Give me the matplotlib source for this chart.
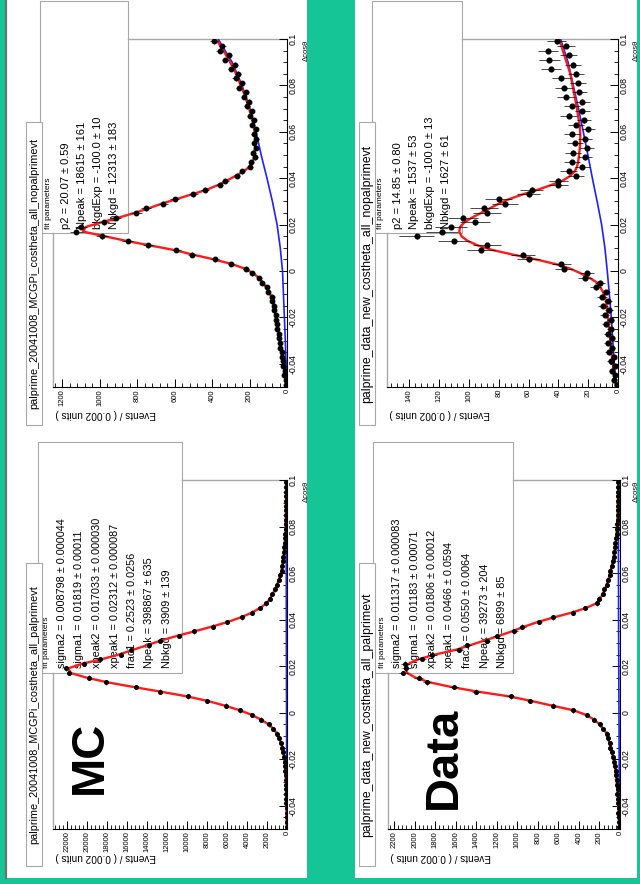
import numpy as np
import matplotlib
matplotlib.use("Agg")
import matplotlib.pyplot as plt
from matplotlib.patches import Rectangle
from matplotlib.lines import Line2D
from matplotlib.ticker import MultipleLocator

plt.rcParams['font.family'] = ['Liberation Sans', 'DejaVu Sans']

# ---------------- data ----------------
bin_centers = np.round(np.arange(-0.049, 0.1, 0.002), 3)   # 75 bins of 0.002
bkg_x = [-0.05, -0.04, -0.03, -0.02, -0.01, 0.0, 0.01, 0.02, 0.03, 0.04,
         0.05, 0.06, 0.07, 0.08, 0.09, 0.1]

# MC, no palprime (top-left)
mc_nop_fit = [6, 9, 12, 15, 18, 22, 26, 30, 34, 38,
              42, 46, 50, 54, 58, 62, 65, 70, 76, 84,
              96, 110, 130, 150, 180, 225, 295, 390, 500, 600,
              730, 860, 975, 1090, 1075, 990, 900, 815, 740, 670,
              590, 510, 430, 370, 320, 275, 230, 200, 183, 176,
              173, 171, 170, 170, 171, 174, 179, 185, 192, 199,
              206, 214, 222, 232, 242, 252, 262, 272, 284, 297,
              310, 325, 340, 356, 372]
mc_nop_data = [7, 8, 14, 13, 20, 21, 28, 29, 36, 37,
               44, 45, 52, 53, 60, 60, 68, 69, 79, 82,
               100, 107, 134, 147, 186, 220, 300, 384, 508, 592,
               742, 850, 990, 1125, 1100, 980, 915, 805, 752, 660,
               600, 500, 440, 360, 330, 268, 238, 196, 190, 170,
               180, 165, 176, 163, 178, 168, 186, 178, 200, 188,
               214, 205, 232, 220, 255, 240, 275, 262, 300, 280,
               330, 310, 360, 345, 390]
mc_nop_bkg = [2, 5, 9, 14, 19, 24, 36, 53, 78, 107, 138, 165, 198, 240, 293, 368]

# Data, no palprime (top-right)
dt_nop_fit = [1.5, 2, 2.5, 3, 3.3, 3.7, 4, 4.3, 4.6, 5,
              5.3, 5.6, 6, 6.3, 6.6, 7, 7.3, 7.6, 8, 9,
              10, 12, 14, 19, 25, 32, 42, 55, 70, 84,
              94, 101, 105, 106.5, 106, 103, 98, 92, 86, 80,
              73, 64, 54, 45, 37, 32, 29, 27.5, 26.8, 26.3,
              26, 25.6, 25.4, 25.3, 25.3, 25.5, 25.8, 26.3, 26.8, 27.3,
              27.8, 28.4, 29, 29.6, 30.2, 30.8, 31.4, 32, 33, 34,
              35, 36, 37, 38, 39]
dt_nop_data = [1, 3, 2, 4, 2, 5, 3, 6, 4, 7,
               4, 7, 5, 8, 5, 9, 6, 10, 7, 11,
               8, 15, 12, 22, 21, 36, 38, 60, 64, 92,
               88, 110, 135, 118, 112, 96, 104, 88, 90, 76,
               80, 60, 58, 40, 40, 28, 33, 24, 31, 22,
               30, 21, 29, 22, 31, 20, 28, 23, 33, 24,
               31, 24, 35, 26, 36, 27, 38, 28, 45, 30,
               46, 33, 47, 35, 41]
dt_nop_bkg = [1.5, 2.5, 3.5, 4.5, 5.8, 7.2, 8.8, 11, 14, 17.2,
              20.2, 23.3, 26.5, 30, 33.5, 38.5]

# MC, palprime (bottom-left)
mc_p_fit = [30, 35, 40, 45, 50, 55, 60, 70, 80, 95,
            110, 130, 155, 190, 240, 300, 370, 460, 580, 760,
            1000, 1350, 1850, 2600, 3500, 4700, 6200, 7900, 10000, 12600,
            15300, 17900, 20000, 21600, 21900, 20500, 18500, 16800, 15400, 14000,
            12600, 11000, 9200, 7500, 5900, 4600, 3500, 2700, 2050, 1700,
            1450, 1200, 1000, 820, 680, 560, 470, 410, 350, 300,
            250, 210, 180, 160, 140, 130, 120, 110, 105, 100,
            95, 90, 88, 85, 82]
mc_p_data = [28, 37, 38, 47, 48, 57, 58, 72, 78, 97,
             108, 133, 152, 194, 236, 305, 365, 466, 574, 768,
             990, 1365, 1830, 2630, 3460, 4750, 6150, 7980, 9900, 12750,
             15150, 18100, 19800, 21800, 22100, 20300, 18700, 16600, 15600, 13800,
             12750, 10850, 9300, 7400, 5980, 4550, 3540, 2660, 2080, 1680,
             1470, 1180, 1015, 810, 690, 550, 478, 402, 356, 296,
             254, 206, 183, 157, 143, 127, 122, 108, 107, 98,
             97, 88, 90, 83, 84]
mc_p_bkg = [20, 25, 30, 35, 40, 45, 50, 55, 60, 65, 70, 72, 74, 76, 78, 80]

# Data, palprime (bottom-right)
dt_p_fit = [8, 10, 12, 14, 16, 18, 20, 23, 26, 30,
            34, 39, 45, 50, 58, 67, 78, 90, 103, 115,
            130, 160, 200, 250, 330, 450, 660, 860, 1080, 1380,
            1640, 1850, 1990, 2070, 2095, 2060, 1960, 1800, 1600, 1460,
            1320, 1180, 1050, 930, 800, 640, 470, 330, 230, 195,
            168, 148, 130, 115, 102, 90, 80, 70, 62, 55,
            48, 42, 37, 33, 30, 27, 25, 23, 22, 21,
            20, 19, 18, 17, 16]
dt_p_data = [6, 12, 11, 16, 14, 20, 18, 25, 24, 33,
             31, 42, 43, 53, 55, 70, 75, 94, 99, 120,
             126, 166, 194, 258, 322, 462, 648, 875, 1065, 1400,
             1620, 1880, 1960, 2110, 2080, 2090, 1930, 1830, 1570, 1490,
             1300, 1200, 1030, 950, 785, 655, 460, 340, 222, 200,
             163, 152, 126, 118, 99, 93, 77, 72, 60, 57,
             46, 44, 35, 34, 29, 28, 24, 24, 21, 22,
             19, 20, 17, 18, 15]
dt_p_bkg = [5, 6, 7, 8, 9, 10, 11, 12, 13, 14, 14, 15, 15, 15, 16, 16]

x_ticks = [-0.04, -0.02, 0.0, 0.02, 0.04, 0.06, 0.08, 0.1]
x_tick_labels = ['-0.04', '-0.02', '0', '0.02', '0.04', '0.06', '0.08', '0.1']

titles = {
    'tl': 'palprime_20041008_MCGPi_costheta_all_nopalprimevt',
    'bl': 'palprime_20041008_MCGPi_costheta_all_palprimevt',
    'tr': 'palprime_data_new_costheta_all_nopalprimevt',
    'br': 'palprime_data_new_costheta_all_palprimevt',
}
stats = {
    'tl': ['p2 = 20.07 \u00b1 0.59', 'Npeak = 18615 \u00b1 161',
           'bkgdExp = -100.0 \u00b1 10', 'Nbkgd = 12313 \u00b1 183'],
    'tr': ['p2 = 14.85 \u00b1 0.80', 'Npeak = 1537 \u00b1 53',
           'bkgdExp = -100.0 \u00b1 13', 'Nbkgd = 1627 \u00b1 61'],
    'bl': ['sigma2 = 0.008798 \u00b1 0.000044', 'sigma1 = 0.01819 \u00b1 0.00011',
           'xpeak2 = 0.017033 \u00b1 0.000030', 'xpeak1 = 0.02312 \u00b1 0.000087',
           'frac1 = 0.2523 \u00b1 0.0256', 'Npeak = 398867 \u00b1 635',
           'Nbkgd = 3909 \u00b1 139'],
    'br': ['sigma2 = 0.011317 \u00b1 0.000083', 'sigma1 = 0.01183 \u00b1 0.00071',
           'xpeak2 = 0.01806 \u00b1 0.00012', 'xpeak1 = 0.0466 \u00b1 0.0594',
           'frac1 = 0.0550 \u00b1 0.0064', 'Npeak = 39273 \u00b1 204',
           'Nbkgd = 6899 \u00b1 85'],
}

# ---------------- layout ----------------
W, H = 640, 884
TEAL = '#15c596'
FRAME_GRAY = '#a8a8a8'
fig = plt.figure(figsize=(W / 100, H / 100), dpi=100)
fig.patch.set_facecolor(TEAL)


def frect(x0, y0, x1, y1):
    return [x0 / W, 1 - y1 / H, (x1 - x0) / W, (y1 - y0) / H]


def add_box(x0, y0, x1, y1, fc='white', ec=FRAME_GRAY, lw=0.8, z=1):
    r = Rectangle((x0 / W, 1 - y1 / H), (x1 - x0) / W, (y1 - y0) / H,
                  transform=fig.transFigure, facecolor=fc, edgecolor=ec,
                  linewidth=lw, zorder=z)
    fig.add_artist(r)


def add_line(x0, y0, x1, y1, color=FRAME_GRAY, lw=1.0, z=1.5):
    fig.add_artist(Line2D([x0 / W, x1 / W], [1 - y0 / H, 1 - y1 / H],
                          transform=fig.transFigure, color=color, lw=lw, zorder=z))


def ftext(x, y, s, **kw):
    return fig.text(x / W, 1 - y / H, s, **kw)


# white slide panels
add_box(6, -3, 307, 878, fc='white', ec='none', lw=0, z=-5)
add_line(6, 0, 6, 878, color='#6f6f6f', lw=1.6, z=-4)
add_box(355, -3, 637, 878, fc='white', ec='none', lw=0, z=-5)


def panel(rect, cmax, cstep, fit, data, bkg, ms):
    ax = fig.add_axes(frect(*rect))
    ax.set_zorder(3)
    ax.set_facecolor('none')
    ax.plot(bkg, bkg_x, color='#2020ff', lw=1.2, zorder=2)
    ax.plot(fit, bin_centers, color='#ff1a1a', lw=1.7, zorder=3)
    d = np.array(data, dtype=float)
    ax.errorbar(d, bin_centers, xerr=np.sqrt(d), yerr=0.001, fmt='o', ms=ms,
                mfc='k', mec='k', ecolor='k', elinewidth=0.5, capsize=0, zorder=4)
    ax.set_xlim(cmax, 0)
    ax.set_ylim(-0.05, 0.1)
    cticks = list(range(0, int(cmax) + 1, cstep))
    ax.set_xticks(cticks, labels=[str(c) for c in cticks], rotation=90,
                  ha='center', va='top', fontsize=5.5)
    ax.xaxis.set_minor_locator(MultipleLocator(cstep / 5))
    ax.yaxis.tick_right()
    ax.set_yticks(x_ticks, labels=x_tick_labels, rotation=90, va='center',
                  ha='left', fontsize=6.3)
    ax.yaxis.set_minor_locator(MultipleLocator(0.005))
    ax.tick_params(axis='x', which='both', direction='in', bottom=True, top=False, pad=1.5)
    ax.tick_params(axis='y', which='both', direction='in', left=False, right=True, pad=1.5)
    ax.tick_params(which='major', length=6, width=0.7)
    ax.tick_params(which='minor', length=3, width=0.6)
    for s in ['left', 'top']:
        ax.spines[s].set_visible(False)
    for s in ['right', 'bottom']:
        ax.spines[s].set_color('black')
        ax.spines[s].set_linewidth(0.8)
    return ax


panel((53, 39, 287, 387), 1250, 200, mc_nop_fit, mc_nop_data, mc_nop_bkg, 3.2)
panel((53, 480, 287, 829), 23400, 2000, mc_p_fit, mc_p_data, mc_p_bkg, 2.6)
panel((387, 39, 618, 387), 155, 20, dt_nop_fit, dt_nop_data, dt_nop_bkg, 3.4)
panel((388, 480, 620, 829), 2260, 200, dt_p_fit, dt_p_data, dt_p_bkg, 2.6)

# visible parts of the frame (top / far edges), outside the stat boxes
add_line(128, 39, 287, 39)
add_line(53, 233, 53, 387)
add_line(182, 480, 287, 480)
add_line(53, 673, 53, 829)
add_line(462, 39, 618, 39)
add_line(387, 233, 387, 387)
add_line(513, 480, 620, 480)
add_line(388, 673, 388, 829)

# axis titles
for (xp, yp) in [(55, 414), (55, 857), (389, 414), (390, 857)]:
    ftext(xp, yp, 'Events / ( 0.002 units )', rotation=180, ha='left', va='center',
          fontsize=7.2)
for (xp, yp) in [(306, 40), (306, 481), (636, 40), (636, 481)]:
    ftext(xp, yp, '\u0394cos\u03b8', rotation=90, ha='center', va='top', fontsize=5.5)

# stat boxes (drawn below the plotted curves)
add_box(40, 1, 128, 233)
add_box(372, 1, 462, 233)
add_box(38, 442, 182, 673)
add_box(373, 442, 513, 673)

ftext(48, 229, 'fit parameters', rotation=90, ha='center', va='bottom', fontsize=6, zorder=2)
for i, s in enumerate(stats['tl']):
    ftext(66 + 16 * i, 229, s, rotation=90, ha='center', va='bottom', fontsize=8, zorder=2)
ftext(380, 229, 'fit parameters', rotation=90, ha='center', va='bottom', fontsize=6, zorder=2)
for i, s in enumerate(stats['tr']):
    ftext(398 + 16 * i, 229, s, rotation=90, ha='center', va='bottom', fontsize=8, zorder=2)
ftext(47, 668, 'fit parameters', rotation=90, ha='center', va='bottom', fontsize=6, zorder=2)
for i, s in enumerate(stats['bl']):
    ftext(62 + 17.5 * i, 668, s, rotation=90, ha='center', va='bottom', fontsize=7.8, zorder=2)
ftext(382, 668, 'fit parameters', rotation=90, ha='center', va='bottom', fontsize=6, zorder=2)
for i, s in enumerate(stats['br']):
    ftext(397 + 17.5 * i, 668, s, rotation=90, ha='center', va='bottom', fontsize=7.8, zorder=2)

# title boxes
for key, (x0, y0, x1, y1), fs in [('tl', (26, 122, 42, 425), 7.8),
                                  ('bl', (26, 563, 42, 866), 7.8),
                                  ('tr', (359, 122, 375, 425), 8.8),
                                  ('br', (359, 563, 375, 866), 8.8)]:
    add_box(x0, y0, x1, y1, z=4)
    ftext((x0 + x1) / 2, (y0 + y1) / 2, titles[key], rotation=90, ha='center',
          va='center', fontsize=fs, zorder=5)

# big labels
ftext(90, 757, 'MC', rotation=90, ha='center', va='center', fontsize=34,
      fontweight='bold', zorder=9)
ftext(444, 758, 'Data', rotation=90, ha='center', va='center', fontsize=34,
      fontweight='bold', zorder=9)

fig.savefig('out.png', dpi=100, facecolor=TEAL)
